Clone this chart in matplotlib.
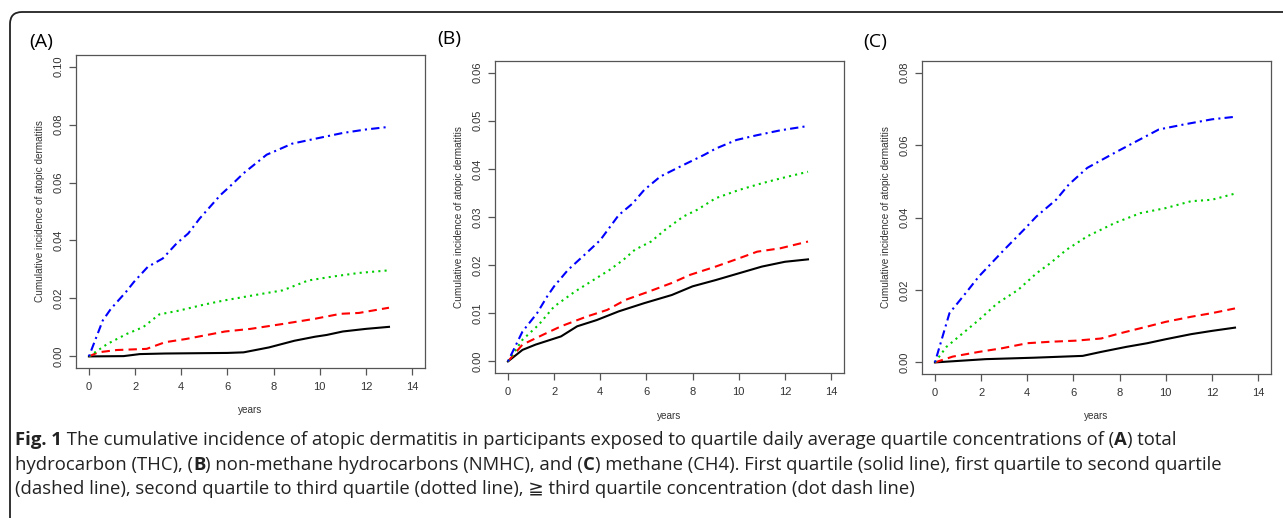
import matplotlib
matplotlib.use("Agg")
import matplotlib.pyplot as plt
from matplotlib.patches import FancyBboxPatch
from matplotlib.transforms import IdentityTransform

# ---- data (years, cumulative incidence) ----
# Panel A: THC
a_q1_x = [0, 1.5, 2.2, 3.3, 6.0, 6.7, 7.8, 8.9, 9.8, 10.3, 11.0, 12.0, 13.0]
a_q1_y = [0, 0.0001, 0.0008, 0.001, 0.0012, 0.0014, 0.0031, 0.0054, 0.0068, 0.0074, 0.0086, 0.0095, 0.0102]
a_q2_x = [0, 0.4, 1.2, 2.5, 3.3, 4.2, 5.9, 7.0, 8.4, 9.8, 10.9, 11.7, 13.0]
a_q2_y = [0, 0.0014, 0.0022, 0.0026, 0.0049, 0.006, 0.0086, 0.0095, 0.0112, 0.013, 0.0147, 0.015, 0.0168]
a_q3_x = [0, 0.8, 1.65, 2.35, 3.05, 3.9, 5.0, 5.85, 7.5, 8.4, 9.5, 10.6, 11.7, 13.0]
a_q3_y = [0, 0.0043, 0.0078, 0.0101, 0.0145, 0.0158, 0.0179, 0.0193, 0.0216, 0.0228, 0.0262, 0.0276, 0.0288, 0.0297]
a_q4_x = [0, 0.6, 0.95, 1.6, 1.95, 2.55, 3.2, 3.8, 4.3, 4.8, 5.7, 6.1, 6.7, 7.7, 8.2, 8.8, 9.8, 11.0, 12.0, 13.0]
a_q4_y = [0, 0.0124, 0.0164, 0.0222, 0.0257, 0.0309, 0.0338, 0.039, 0.0424, 0.0476, 0.0557, 0.0586, 0.0632,
          0.0696, 0.0713, 0.0734, 0.0751, 0.0771, 0.0783, 0.0792]

# Panel B: NMHC
b_q1_x = [0, 0.63, 1.2, 2.3, 3.0, 3.85, 4.8, 5.9, 7.1, 8.0, 9.0, 10.0, 11.0, 12.0, 13.0]
b_q1_y = [0, 0.0024, 0.0035, 0.0052, 0.0073, 0.0086, 0.0104, 0.0121, 0.0138, 0.0156, 0.0169, 0.0183, 0.0197, 0.0207, 0.0212]
b_q2_x = [0, 0.63, 1.5, 2.3, 3.4, 4.3, 5.1, 6.1, 7.1, 7.9, 9.0, 10.0, 10.8, 11.8, 13.0]
b_q2_y = [0, 0.0035, 0.0055, 0.0073, 0.0093, 0.0107, 0.0128, 0.0145, 0.0163, 0.018, 0.0197, 0.0214, 0.0228, 0.0235, 0.0249]
b_q3_x = [0, 0.63, 1.33, 2.0, 2.9, 3.7, 4.4, 5.0, 5.5, 6.2, 6.8, 7.6, 8.2, 9.0, 10.0, 11.0, 11.8, 13.0]
b_q3_y = [0, 0.0045, 0.0076, 0.0114, 0.0145, 0.0169, 0.019, 0.0211, 0.0232, 0.0249, 0.0273, 0.0301, 0.0315, 0.0339,
          0.0356, 0.037, 0.038, 0.0394]
b_q4_x = [0, 0.63, 1.26, 1.7, 2.0, 2.6, 3.4, 4.0, 4.8, 5.4, 5.9, 6.6, 7.6, 8.5, 9.0, 9.9, 10.8, 11.8, 13.0]
b_q4_y = [0, 0.0062, 0.01, 0.0135, 0.0156, 0.019, 0.0225, 0.0252, 0.0304, 0.0328, 0.0356, 0.0384, 0.0408, 0.0429,
          0.0442, 0.046, 0.047, 0.048, 0.0489]

# Panel C: CH4
c_q1_x = [0, 2.2, 4.3, 6.4, 7.2, 8.3, 9.2, 10.0, 11.1, 12.0, 13.0]
c_q1_y = [0, 0.0009, 0.0013, 0.0018, 0.0029, 0.0043, 0.0053, 0.0064, 0.0078, 0.0087, 0.0096]
c_q2_x = [0, 0.77, 1.9, 2.9, 4.0, 5.0, 6.1, 7.2, 8.0, 9.2, 10.0, 11.1, 12.0, 13.0]
c_q2_y = [0, 0.0016, 0.0029, 0.0039, 0.0053, 0.0057, 0.006, 0.0066, 0.008, 0.0099, 0.0112, 0.0126, 0.0136, 0.0149]
c_q3_x = [0, 0.5, 1.2, 1.9, 2.7, 3.6, 4.4, 5.0, 5.7, 6.6, 7.8, 8.9, 10.0, 11.1, 12.0, 13.0]
c_q3_y = [0, 0.0043, 0.008, 0.0117, 0.0163, 0.02, 0.0246, 0.0274, 0.0311, 0.0348, 0.0385, 0.0412, 0.0426, 0.0445,
          0.0449, 0.0466]
c_q4_x = [0, 0.63, 1.33, 1.9, 2.45, 3.0, 3.85, 4.4, 5.25, 5.8, 6.6, 7.8, 8.6, 9.7, 10.8, 12.0, 13.0]
c_q4_y = [0, 0.0136, 0.0191, 0.0237, 0.0274, 0.0311, 0.0366, 0.0403, 0.0449, 0.0491, 0.0537, 0.0579, 0.0606,
          0.0643, 0.0657, 0.0671, 0.0678]

panel_labels = ["(A)", "(B)", "(C)"]
y_maxes = [0.10, 0.06, 0.08]
y_ticks = [
    [0.00, 0.02, 0.04, 0.06, 0.08, 0.10],
    [0.00, 0.01, 0.02, 0.03, 0.04, 0.05, 0.06],
    [0.00, 0.02, 0.04, 0.06, 0.08],
]
x_ticks = [0, 2, 4, 6, 8, 10, 12, 14]
ylabel = "Cumulative incidence of atopic dermatitis"
xlabel = "years"

panels = [
    [(a_q1_x, a_q1_y), (a_q2_x, a_q2_y), (a_q3_x, a_q3_y), (a_q4_x, a_q4_y)],
    [(b_q1_x, b_q1_y), (b_q2_x, b_q2_y), (b_q3_x, b_q3_y), (b_q4_x, b_q4_y)],
    [(c_q1_x, c_q1_y), (c_q2_x, c_q2_y), (c_q3_x, c_q3_y), (c_q4_x, c_q4_y)],
]

# R-ish styles: lty 1..4, col 1..4
line_styles = [
    dict(color="black", linestyle="-"),
    dict(color="#ff0000", linestyle=(0, (4, 2.5))),
    dict(color="#00cd00", linestyle=(0, (1, 2))),
    dict(color="#0000ff", linestyle=(0, (1, 2, 4, 2))),
]

W, H = 1283, 518
fig = plt.figure(figsize=(W / 100, H / 100), dpi=100)
plt.rcParams["font.family"] = ["Liberation Sans", "DejaVu Sans"]

# axes boxes in pixels: left, top, right, bottom
boxes = [(76, 55, 425, 368), (495, 61, 844, 373), (922, 61, 1271, 374)]
label_pos = [(29, 42), (437, 39), (863, 42)]
years_y = [410, 416, 416]

frame_col = "#555555"
text_col = "#333333"

for i, (l, t, r, b) in enumerate(boxes):
    ax = fig.add_axes([l / W, 1 - b / H, (r - l) / W, (b - t) / H])
    for (xs, ys), st in zip(panels[i], line_styles):
        ax.plot(xs, ys, lw=1.5, **st)
    ymax = y_maxes[i]
    ax.set_xlim(-0.56, 14.56)
    ax.set_ylim(-0.04 * ymax, 1.04 * ymax)
    ax.set_xticks(x_ticks)
    ax.set_yticks(y_ticks[i])
    ax.set_yticklabels([f"{v:.2f}" for v in y_ticks[i]], rotation=90, va="center")
    ax.tick_params(direction="out", length=5, width=0.9, colors=frame_col,
                   labelcolor=text_col, labelsize=8, pad=5)
    ax.tick_params(axis="y", pad=4)
    for sp in ax.spines.values():
        sp.set_color(frame_col)
        sp.set_linewidth(0.9)
    ax.set_ylabel(ylabel, fontsize=7.2, color=text_col, labelpad=6)
    fig.text((l + r) / 2 / W, 1 - years_y[i] / H, xlabel, fontsize=7.2,
             color=text_col, ha="center", va="center")
    lx, ly = label_pos[i]
    fig.text(lx / W, 1 - ly / H, panel_labels[i], fontsize=14, family=["Open Sans", "DejaVu Sans"],
             ha="left", va="center", color="black")

# rounded frame around the figure
frame = FancyBboxPatch((10, -30), 1400, H - 12 + 30, boxstyle="round,pad=0,rounding_size=12",
                       transform=IdentityTransform(), fill=False, edgecolor="#222222", lw=1.3)
fig.patches.append(frame)

# caption with bold pieces
caption_lines = [
    [("Fig. 1", True),
     (" The cumulative incidence of atopic dermatitis in participants exposed to quartile daily average "
      "quartile concentrations of (", False), ("A", True), (") total", False)],
    [("hydrocarbon (THC), (", False), ("B", True), (") non-methane hydrocarbons (NMHC), and (", False),
     ("C", True), (") methane (CH4). First quartile (solid line), first quartile to second quartile", False)],
    [("(dashed line), second quartile to third quartile (dotted line), \u2267 third quartile concentration "
      "(dot dash line)", False)],
]
caption_y = [440, 465, 489]
renderer = fig.canvas.get_renderer()
for parts, cy in zip(caption_lines, caption_y):
    x = 15 / W
    for txt, bold in parts:
        t = fig.text(x, 1 - cy / H, txt, fontsize=13.3, family=["Open Sans", "DejaVu Sans"],
                     fontweight="bold" if bold else "normal", color="#222222",
                     ha="left", va="center")
        x += t.get_window_extent(renderer).width / W

fig.savefig("out.png", dpi=100)
